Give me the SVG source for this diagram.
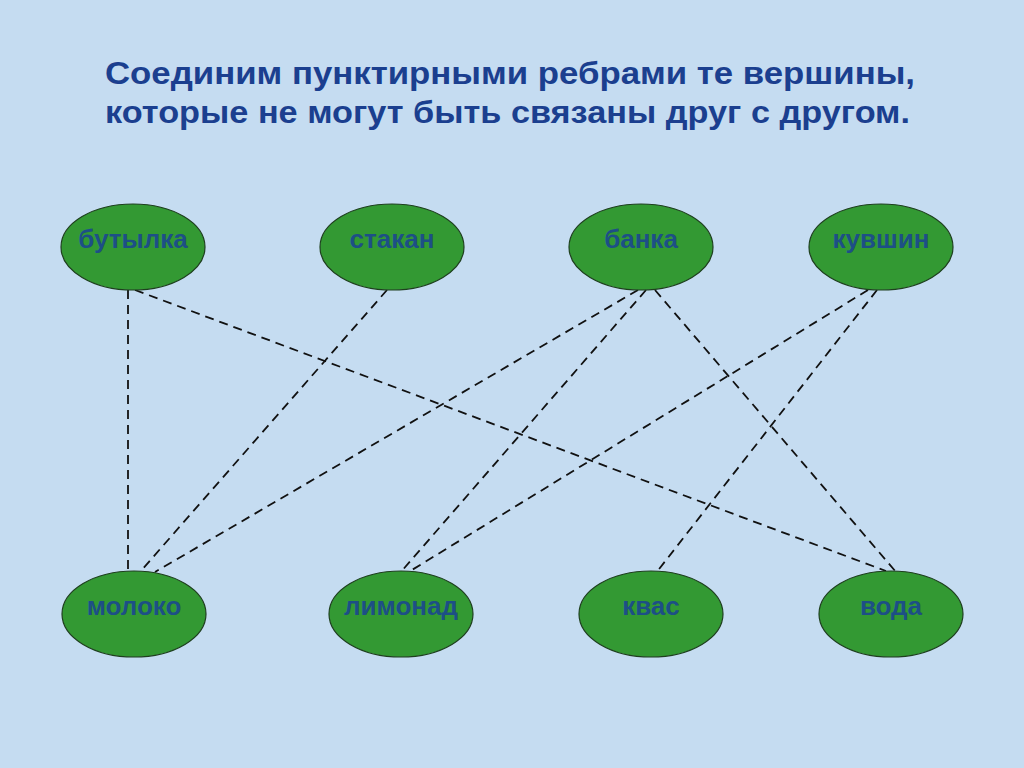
<svg xmlns="http://www.w3.org/2000/svg" width="1024" height="768" viewBox="0 0 1024 768">
<style>
.title{font-family:"Liberation Sans",Arial,sans-serif;font-weight:bold;font-size:32px;fill:#1b3f8f}
.node ellipse{fill:#339933;stroke:#1e3f1e;stroke-width:1.2}
.node text{font-family:"Liberation Sans",Arial,sans-serif;font-weight:bold;font-size:26px;fill:#1d4f86;text-anchor:middle}
.edges line{stroke:#111;stroke-width:1.8;stroke-dasharray:9 6}
</style>
<rect width="1024" height="768" fill="#c5dcf1"/>
<g id="title">
<text class="title" x="105" y="84" textLength="810" lengthAdjust="spacingAndGlyphs">Соединим пунктирными ребрами те вершины,</text>
<text class="title" x="105" y="123" textLength="805" lengthAdjust="spacingAndGlyphs">которые не могут быть связаны друг с другом.</text>
</g>
<g class="edges" id="connectors">
<line x1="128" y1="290" x2="128" y2="572"/>
<line x1="135" y1="290" x2="886" y2="571"/>
<line x1="387" y1="290" x2="140" y2="572"/>
<line x1="638" y1="290" x2="155" y2="572"/>
<line x1="646" y1="290" x2="400" y2="573"/>
<line x1="655" y1="290" x2="896" y2="572"/>
<line x1="868" y1="290" x2="407" y2="573"/>
<line x1="877" y1="290" x2="656" y2="573"/>
</g>
<g class="node" id="n-butylka"><ellipse cx="133" cy="247" rx="72" ry="43"/><text x="133" y="248">бутылка</text></g>
<g class="node" id="n-stakan"><ellipse cx="392" cy="247" rx="72" ry="43"/><text x="392" y="248">стакан</text></g>
<g class="node" id="n-banka"><ellipse cx="641" cy="247" rx="72" ry="43"/><text x="641" y="248">банка</text></g>
<g class="node" id="n-kuvshin"><ellipse cx="881" cy="247" rx="72" ry="43"/><text x="881" y="248">кувшин</text></g>
<g class="node" id="n-moloko"><ellipse cx="134" cy="614" rx="72" ry="43"/><text x="134" y="615">молоко</text></g>
<g class="node" id="n-limonad"><ellipse cx="401" cy="614" rx="72" ry="43"/><text x="401" y="615">лимонад</text></g>
<g class="node" id="n-kvas"><ellipse cx="651" cy="614" rx="72" ry="43"/><text x="651" y="615">квас</text></g>
<g class="node" id="n-voda"><ellipse cx="891" cy="614" rx="72" ry="43"/><text x="891" y="615">вода</text></g>
</svg>
